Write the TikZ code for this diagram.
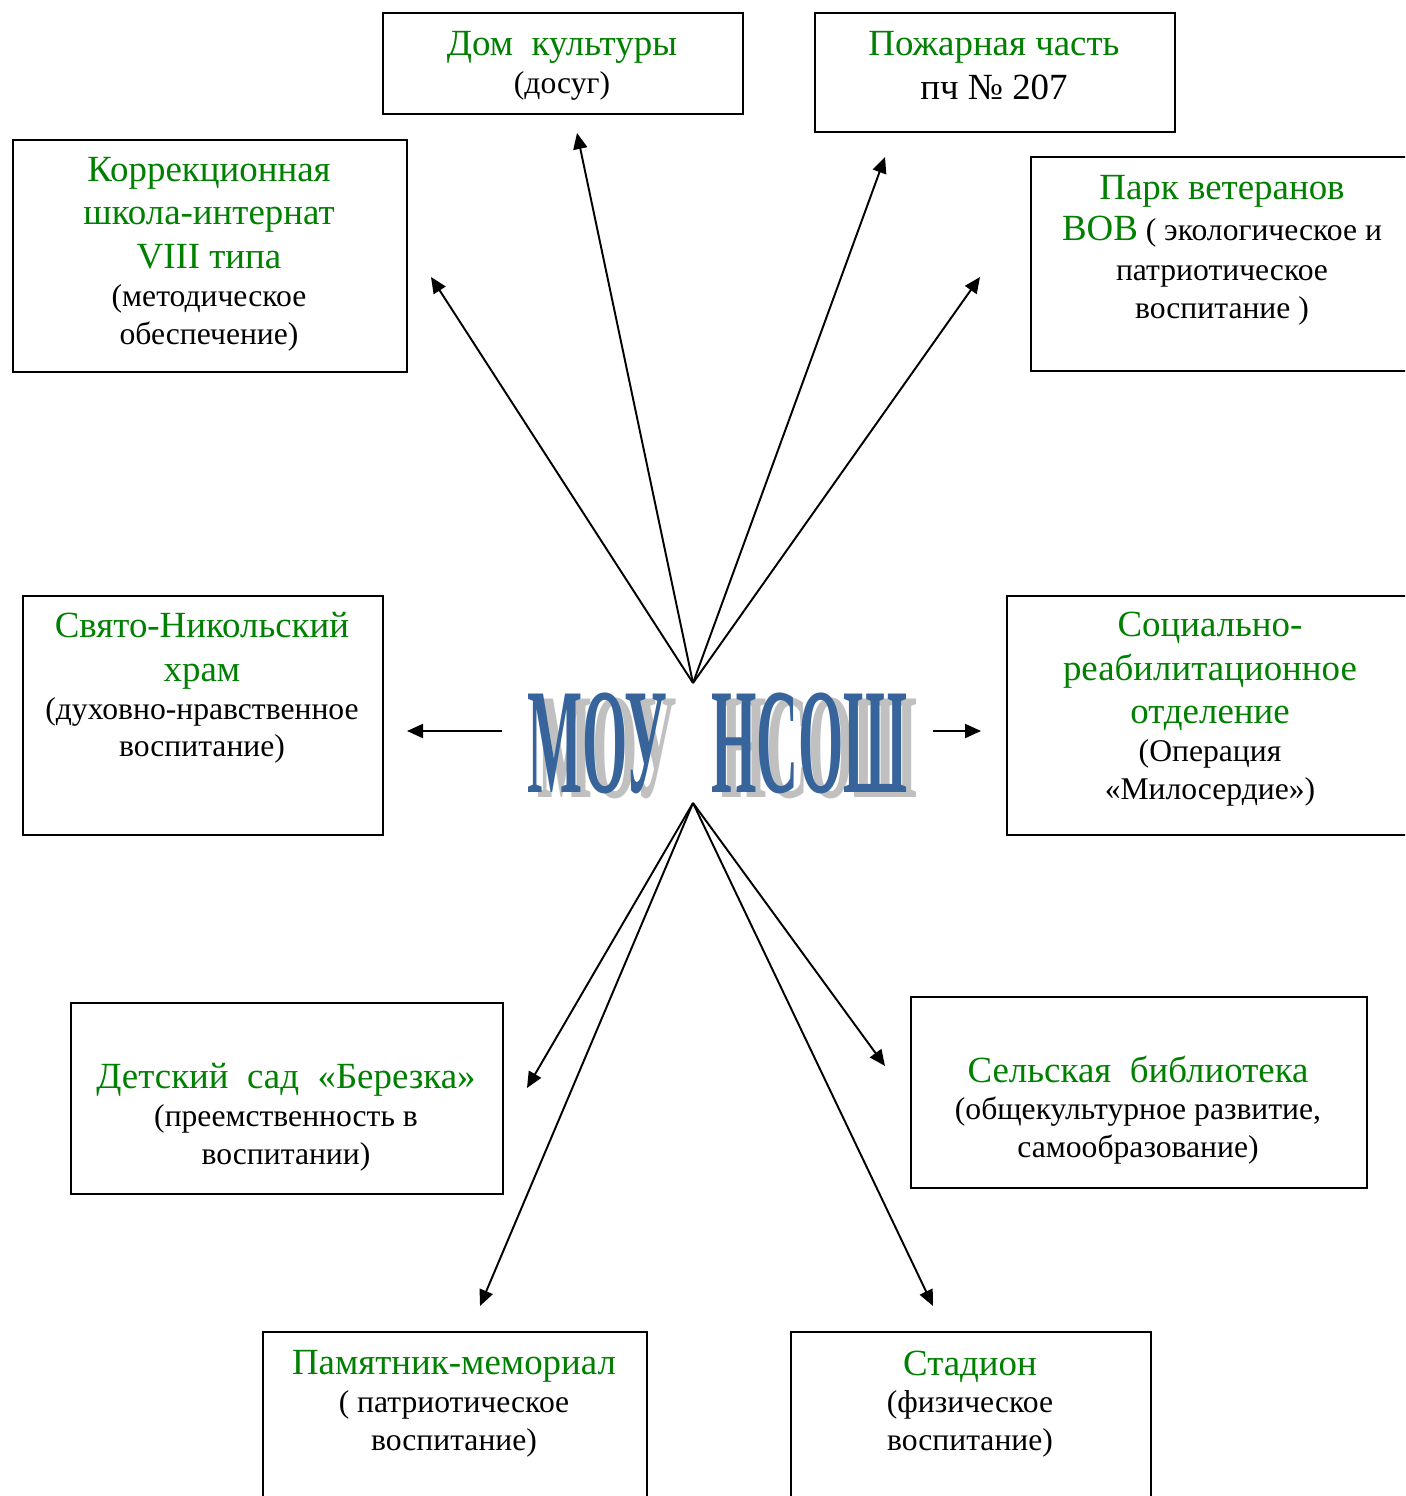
\documentclass[tikz,border=0pt]{standalone}
\usepackage{fontspec}
\setmainfont{Liberation Serif}
\usetikzlibrary{arrows.meta,positioning}

\definecolor{titlegreen}{RGB}{0,128,0}
\definecolor{hubblue}{RGB}{54,100,155}
\definecolor{hubgray}{RGB}{192,192,192}
\newcommand{\boxtitle}[1]{{\color{titlegreen}\fontsize{21}{25}\selectfont #1}}
\newcommand{\hubword}{\scalebox{0.83}[2.14]{\fontsize{40}{40}\selectfont\bfseries МОУ\hspace{30pt}НСОШ}}

\begin{document}
\begin{tikzpicture}[x=0.02cm,y=-0.02cm]
\tikzstyle{frame}=[draw,rectangle,anchor=north west,line width=1.1pt]
\tikzstyle{boxtext}=[align=center,inner sep=0pt,font=\fontsize{18}{21.5}\selectfont]
\tikzstyle{link}=[line width=1.1pt,-{Triangle[length=0.32cm,width=0.28cm]}]
\clip (0,0) rectangle (1405,1496);

% boxes
\node[frame, minimum width=7.2cm, minimum height=2.02cm] (dom) at (382,12) {};
\node[frame, minimum width=7.2cm, minimum height=2.38cm] (fire) at (814,12) {};
\node[frame, minimum width=7.88cm, minimum height=4.64cm] (korr) at (12,139) {};
\node[frame, minimum width=8cm, minimum height=4.28cm] (park) at (1030,156) {};
\node[frame, minimum width=7.2cm, minimum height=4.78cm] (svyato) at (22,595) {};
\node[frame, minimum width=8.4cm, minimum height=4.78cm] (social) at (1006,595) {};
\node[frame, minimum width=8.64cm, minimum height=3.82cm] (detsad) at (70,1002) {};
\node[frame, minimum width=9.12cm, minimum height=3.82cm] (bibl) at (910,996) {};
\node[frame, minimum width=7.68cm, minimum height=4cm] (pam) at (262,1331) {};
\node[frame, minimum width=7.2cm, minimum height=4cm] (stad) at (790,1331) {};

% texts
\node[boxtext] (domtxt) at (562,66) {\boxtitle{Дом\ \ культуры}\\(досуг)};
\node[boxtext] (firetxt) at (994,66) {\boxtitle{Пожарная часть}\\[3.5pt]{\fontsize{21}{25}\selectfont пч № 207}};
\node[boxtext] (korrtxt) at (209,254) {\boxtitle{Коррекционная}\\[3.4pt]\boxtitle{школа-интернат}\\[3.4pt]\boxtitle{VIII типа}\\(методическое\\обеспечение)};
\node[boxtext] (parktxt) at (1222,250) {\boxtitle{Парк ветеранов}\\[2pt]\boxtitle{ВОВ} ( экологическое и\\[1pt]патриотическое\\воспитание )};
\node[boxtext] (svyatotxt) at (202,688) {\boxtitle{Свято-Никольский}\\[3.4pt]\boxtitle{храм}\\(духовно-нравственное\\воспитание)};
\node[boxtext] (socialtxt) at (1210,709) {\boxtitle{Социально-}\\[3.4pt]\boxtitle{реабилитационное}\\[3.4pt]\boxtitle{отделение}\\(Операция\\«Милосердие»)};
\node[boxtext] (detsadtxt) at (286,1117) {\boxtitle{Детский\ \ сад\ \ «Березка»}\\(преемственность в\\воспитании)};
\node[boxtext] (bibltxt) at (1138,1110) {\boxtitle{Сельская\ \ библиотека}\\(общекультурное развитие,\\самообразование)};
\node[boxtext] (pamtxt) at (454,1404) {\boxtitle{Памятник-мемориал}\\( патриотическое\\воспитание)};
\node[boxtext] (stadtxt) at (970,1404) {\boxtitle{Стадион}\\(физическое\\воспитание)};

% centre
\node[anchor=base west,inner sep=0pt,text=hubgray] (hubshadow) at (537,797) {\hubword};
\node[anchor=base west,inner sep=0pt,text=hubblue] (hub) at (527,792) {\hubword};

\coordinate (hubtop) at (693,683);
\coordinate (hubbot) at (693,803);
\coordinate (hubleft) at (502,731);
\coordinate (hubright) at (933,731);
\coordinate (domend) at (577,133);
\coordinate (fireend) at (885,157);
\coordinate (korrend) at (431,277);
\coordinate (parkend) at (980,277);
\coordinate (svyatoend) at (407,731);
\coordinate (socialend) at (981,731);
\coordinate (detsadend) at (527,1088);
\coordinate (pamend) at (480,1306);
\coordinate (biblend) at (885,1066);
\coordinate (stadend) at (933,1306);

% arrows
\draw[link] (hubtop) -- (domend);
\draw[link] (hubtop) -- (fireend);
\draw[link] (hubtop) -- (korrend);
\draw[link] (hubtop) -- (parkend);
\draw[link] (hubleft) -- (svyatoend);
\draw[link] (hubright) -- (socialend);
\draw[link] (hubbot) -- (detsadend);
\draw[link] (hubbot) -- (pamend);
\draw[link] (hubbot) -- (biblend);
\draw[link] (hubbot) -- (stadend);
\end{tikzpicture}
\end{document}
